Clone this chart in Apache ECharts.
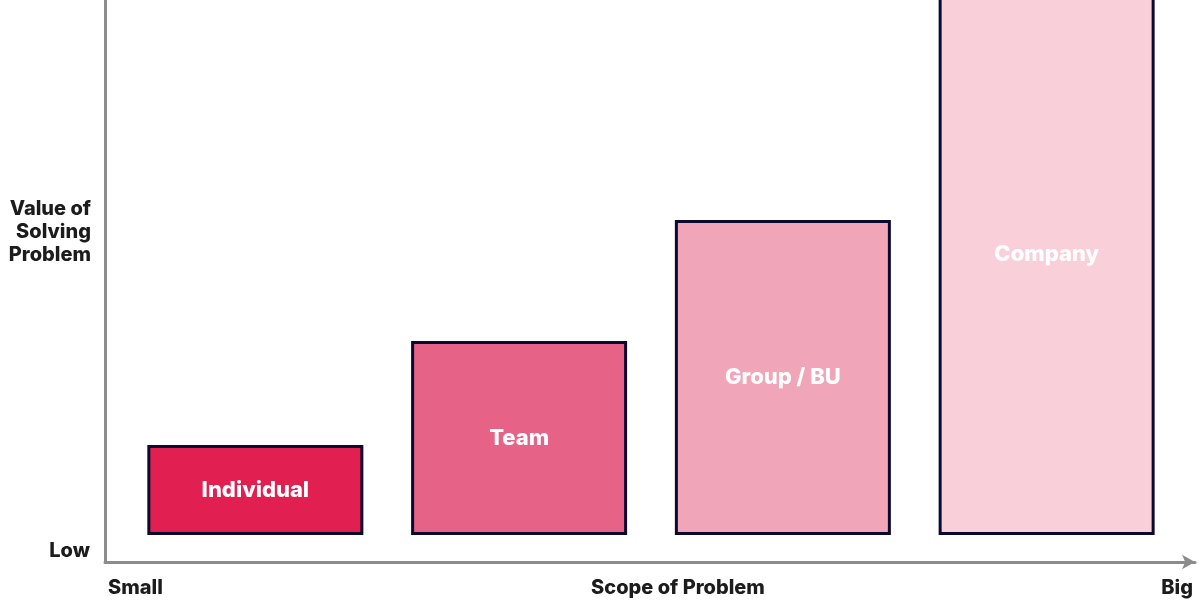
<!DOCTYPE html>
<html>
<head>
<meta charset="utf-8">
<script src="https://cdn.jsdelivr.net/npm/echarts@6/dist/echarts.min.js"></script>
<style>html,body{margin:0;padding:0;background:#fff}#c{width:1200px;height:600px}</style>
</head>
<body>
<div id="c"></div>
<script>
const categories = ['Individual', 'Team', 'Group / BU', 'Company'];
const values = [18, 38.8, 63, 112.4];
const barColors = ['#E21F51', '#E66287', '#F1A5B8', '#F9D0DA'];
const xAxisLabels = ['Small', 'Scope of Problem', 'Big'];
const yAxisLabels = ['Low', 'Value of\nSolving\nProblem'];

const chart = echarts.init(document.getElementById('c'));
const FONT = 'Inter';
const textStyleBase = { fontFamily: FONT, fontWeight: 800, fontSize: 20, fill: '#1c1c1c' };

chart.setOption({
  animation: false,
  grid: { left: 105, right: 5, top: 0, bottom: 38 },
  xAxis: {
    type: 'value', min: -0.57, max: 3.5625,
    axisLine: { show: true, onZero: false, symbol: ['none', 'arrow'], symbolSize: [11, 13], lineStyle: { color: '#8c8c8c', width: 3 } },
    axisTick: { show: false }, axisLabel: { show: false }, splitLine: { show: false }
  },
  yAxis: {
    type: 'value', min: -5.4, max: 107,
    axisLine: { show: true, onZero: false, lineStyle: { color: '#8c8c8c', width: 3 } },
    axisTick: { show: false }, axisLabel: { show: false }, splitLine: { show: false }
  },
  series: [{
    type: 'bar',
    clip: false,
    barWidth: 216,
    data: values.map((v, i) => ({
      value: [i, v],
      name: categories[i],
      itemStyle: { color: barColors[i] }
    })),
    itemStyle: { borderColor: '#0b0a2e', borderWidth: 3 },
    label: {
      show: true, position: 'inside', formatter: p => p.name,
      color: '#ffffff', fontFamily: FONT, fontWeight: 800, fontSize: 22
    }
  }],
  graphic: [
    { type: 'text', x: 108, y: 588, style: Object.assign({ text: xAxisLabels[0], align: 'left', verticalAlign: 'middle' }, textStyleBase) },
    { type: 'text', x: 678, y: 588, style: Object.assign({ text: xAxisLabels[1], align: 'center', verticalAlign: 'middle' }, textStyleBase) },
    { type: 'text', x: 1193, y: 588, style: Object.assign({ text: xAxisLabels[2], align: 'right', verticalAlign: 'middle' }, textStyleBase) },
    { type: 'text', x: 90, y: 551, style: Object.assign({ text: yAxisLabels[0], align: 'right', verticalAlign: 'middle' }, textStyleBase) },
    { type: 'text', x: 91, y: 232, style: Object.assign({ text: yAxisLabels[1], align: 'right', verticalAlign: 'middle', lineHeight: 23 }, textStyleBase) }
  ]
});
</script>
</body>
</html>
